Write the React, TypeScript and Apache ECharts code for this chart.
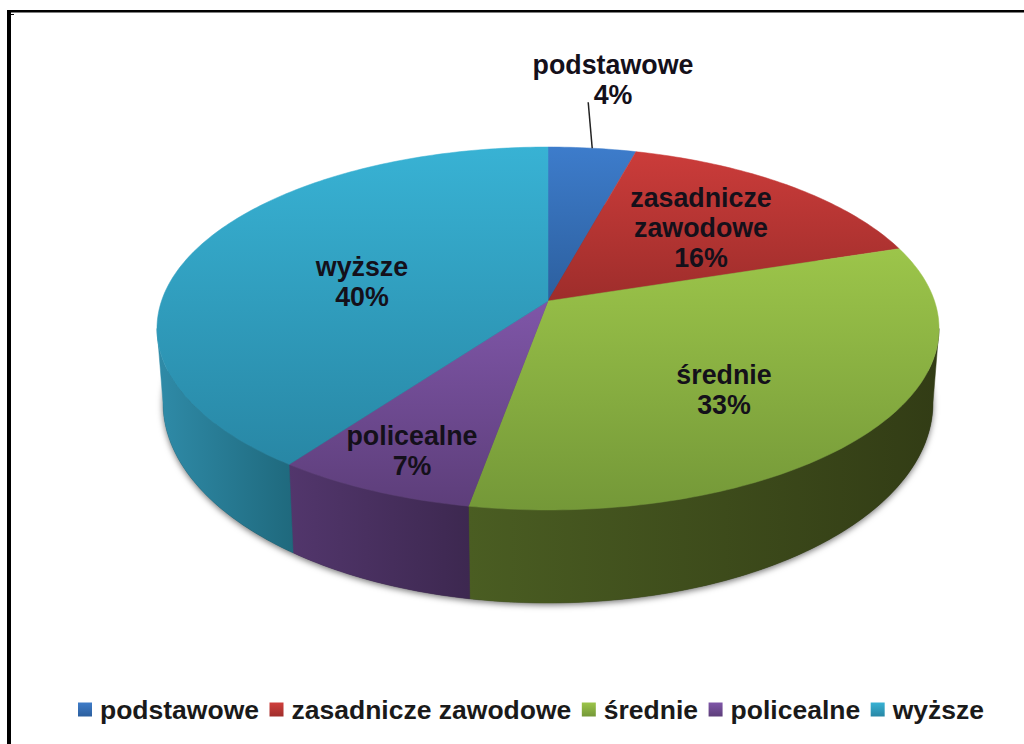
import React, { useEffect, useRef } from "react";
import * as echarts from "echarts";

const categories = ["podstawowe", "zasadnicze zawodowe", "średnie", "policealne", "wyższe"];
// Read from the slice boundaries; the labels show these values rounded.
const values = [4.2, 15.8, 32.8, 7.2, 40];
const labelLines = [["podstawowe"], ["zasadnicze", "zawodowe"], ["średnie"], ["policealne"], ["wyższe"]];

// Colours: [top of slice, bottom of slice]
const topColors = [
  ["#3d7ccb", "#2c5f9e"],
  ["#cb3c3a", "#9e2d2b"],
  ["#9cc54a", "#749838"],
  ["#7f56a8", "#5d3e7a"],
  ["#38b2d4", "#2887a5"],
];
const sideColors = [
  ["#2c5f9e", "#234c7e"],
  ["#8c2826", "#6e1f1e"],
  ["#4a5d22", "#323c15"],
  ["#52366c", "#3d2850"],
  ["#2f8ba8", "#1f697d"],
];
const legendColors = [
  ["#3f7cc8", "#2c5f9e"],
  ["#cf3f3c", "#a02e2c"],
  ["#9cc54a", "#749838"],
  ["#7f56a8", "#5d3e7a"],
  ["#38b2d4", "#2887a5"],
];

// Layout of the tilted disc (not data)
const CX = 548;
const K = 0.1515;
const TOP = { a: 301, A: 386.5, B: 177.3 };
const BOTTOM = { a: 372.7, A: 380.5, B: 195.4 };
const LABEL_POS = [
  [613, 80],
  [701, 228],
  [724, 390],
  [412, 451],
  [362, 282],
];
const FONT = "Liberation Sans";
const LABEL_LINE_HEIGHT = 30;

const total = values.reduce((s, v) => s + v, 0);
const rad = (d: number) => (d * Math.PI) / 180;
const project = (deg: number, p: { a: number; A: number; B: number }) => {
  const x = Math.sin(rad(deg));
  const v = Math.cos(rad(deg));
  const w = 1 + K * v;
  return [CX + (p.A * x) / w, p.a - (p.B * v) / w];
};
const arc = (from: number, to: number, p: { a: number; A: number; B: number }) => {
  const n = Math.max(2, Math.ceil(Math.abs(to - from)));
  const pts: number[][] = [];
  for (let i = 0; i <= n; i++) pts.push(project(from + ((to - from) * i) / n, p));
  return pts;
};
const SIDE_MIN = (Math.acos(-K) * 180) / Math.PI;
const SIDE_MAX = 360 - SIDE_MIN;

const vGrad = (c: string[]) => new echarts.graphic.LinearGradient(0, 0, 0, 1, [
  { offset: 0, color: c[0] },
  { offset: 1, color: c[1] },
]);
const hGrad = (c: string[]) => new echarts.graphic.LinearGradient(0, 0, 1, 0, [
  { offset: 0, color: c[0] },
  { offset: 1, color: c[1] },
]);

export default function App() {
  const ref = useRef<HTMLDivElement>(null);
  useEffect(() => {
    const chart = echarts.init(ref.current!, undefined, { renderer: "svg" });
    let running = 0;
    const sliceSeries = categories.map((name, i) => {
      const startValue = running;
      running += values[i];
      return {
        type: "custom",
        name,
        coordinateSystem: "none",
        silent: true,
        itemStyle: { color: vGrad(legendColors[i]) },
        data: [[values[i]]],
        renderItem: (_p: any, api: any) => {
          const v = api.value(0);
          const a0 = (startValue / total) * 360;
          const a1 = ((startValue + v) / total) * 360;
          const children: any[] = [];
          const s0 = Math.max(a0, SIDE_MIN);
          const s1 = Math.min(a1, SIDE_MAX);
          if (s1 > s0) {
            const side = [...arc(s0, s1, TOP), ...arc(s1, s0, BOTTOM)];
            const g = hGrad(sideColors[i]);
            children.push({
              type: "polygon",
              z2: 1,
              shape: { points: side },
              style: { fill: g, stroke: g, lineWidth: 0.5 },
            });
          }
          const g = vGrad(topColors[i]);
          children.push({
            type: "polygon",
            z2: 2,
            shape: { points: [[CX, TOP.a], ...arc(a0, a1, TOP)] },
            style: { fill: g, stroke: g, lineWidth: 0.5 },
          });
          const [lx, ly] = LABEL_POS[i];
          children.push({
            type: "text",
            z2: 10,
            style: {
              x: lx,
              y: ly,
              text: [...labelLines[i], `${Math.round(v)}%`].join("\n"),
              fill: "#14101a",
              fontFamily: FONT,
              fontWeight: "bold",
              fontSize: 26.8,
              lineHeight: LABEL_LINE_HEIGHT,
              align: "center",
              verticalAlign: "middle",
            },
          });
          if (i === 0) {
            const end = project(a0 + (a1 - a0) * 0.5, TOP);
            children.push({
              type: "line",
              z2: 9,
              shape: { x1: end[0] - 4, y1: end[1] - 46, x2: end[0], y2: end[1] },
              style: { stroke: "#222222", lineWidth: 1.5 },
            });
          }
          return { type: "group", children };
        },
      };
    });
    const shadowSeries = {
      type: "custom",
      name: "cień",
      coordinateSystem: "none",
      silent: true,
      z: 1,
      data: [[total]],
      renderItem: () => ({
        type: "polygon",
        z2: 0,
        shape: { points: arc(0, 360, BOTTOM) },
        style: {
          fill: "#333333",
          shadowColor: "rgba(0,0,0,0.55)",
          shadowBlur: 6,
          shadowOffsetX: 0,
          shadowOffsetY: 2,
        },
      }),
    };
    chart.setOption({
      animation: false,
      backgroundColor: "#ffffff",
      legend: {
        data: categories,
        left: 78,
        top: 696,
        padding: 0,
        orient: "horizontal",
        width: 960,
        icon: "rect",
        itemWidth: 14,
        itemHeight: 14,
        itemGap: 10.5,
        selectedMode: false,
        textStyle: {
          fontFamily: FONT,
          fontWeight: "bold",
          fontSize: 26.5,
          color: "#1a1a1a",
          padding: [0, 0, 0, 3],
        },
      },
      graphic: [
        { type: "rect", silent: true, shape: { x: 7, y: 10, width: 1017, height: 2.5 }, style: { fill: "#000000" } },
        { type: "rect", silent: true, shape: { x: 7, y: 10, width: 4, height: 734 }, style: { fill: "#000000" } },
        { type: "rect", silent: true, shape: { x: 11, y: 14, width: 3, height: 1 }, style: { fill: "#000000" } },
      ],
      series: [shadowSeries, ...sliceSeries],
    });
    return () => chart.dispose();
  }, []);
  return <div ref={ref} style={{ position: "fixed", left: 0, top: 0, width: 1024, height: 744 }} />;
}
